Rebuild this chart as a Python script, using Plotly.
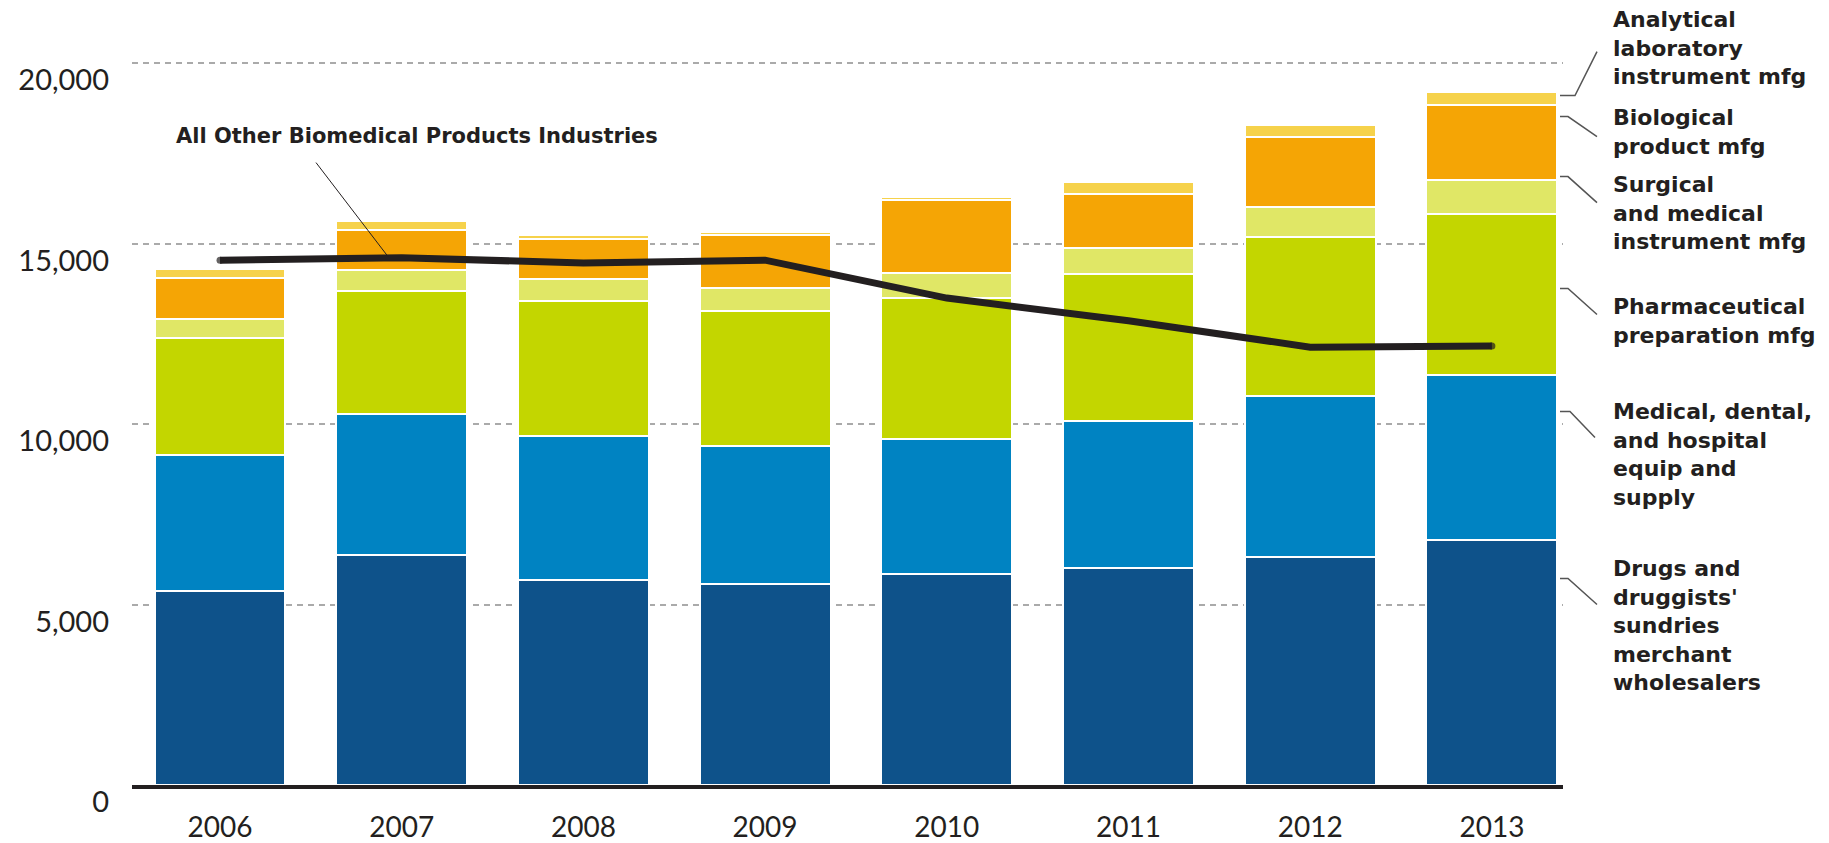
import plotly.graph_objects as go

years = ["2006", "2007", "2008", "2009", "2010", "2011", "2012", "2013"]

drugs_wholesalers = [5370, 6359, 5693, 5555, 5847, 6013, 6305, 6792]
medical_dental_equip = [3780, 3928, 3984, 3835, 3749, 4070, 4479, 4557]
pharmaceutical_prep = [3244, 3401, 3733, 3743, 3895, 4070, 4411, 4459]
surgical_instrument = [508, 573, 620, 647, 681, 720, 827, 964]
biological_product = [1155, 1109, 1090, 1451, 2045, 1490, 1919, 2074]
analytical_lab = [250, 258, 111, 102, 78, 331, 350, 360]

all_other = [14540, 14610, 14460, 14540, 13490, 12860, 12130, 12160]

series = [
    ("Drugs and druggists' sundries merchant wholesalers", drugs_wholesalers, "#0E528A"),
    ("Medical, dental, and hospital equip and supply", medical_dental_equip, "#0083C2"),
    ("Pharmaceutical preparation mfg", pharmaceutical_prep, "#C3D600"),
    ("Surgical and medical instrument mfg", surgical_instrument, "#E0E766"),
    ("Biological product mfg", biological_product, "#F5A505"),
    ("Analytical laboratory instrument mfg", analytical_lab, "#F6D24B"),
]

INK = "#231F20"
LABEL_FONT = dict(family="DejaVu Sans", size=22, color=INK, weight="bold")

fig = go.Figure()
for name, vals, col in series:
    fig.add_trace(go.Bar(x=years, y=vals, name=name, marker=dict(color=col, line=dict(color="white", width=2))))

fig.add_trace(go.Scatter(x=years, y=all_other, mode="lines+markers", name="All Other Biomedical Products Industries",
                         line=dict(color=INK, width=7),
                         marker=dict(color=INK, size=[7, 0, 0, 0, 0, 0, 0, 7], line=dict(width=0))))

# Layout geometry (pixels)
W, H = 1829, 843
L, R = 132, 1563
BOTTOM = 785.5
PX_PER_UNIT = 180.5 / 5000.0
YMAX = 21000
top = BOTTOM - YMAX * PX_PER_UNIT

def py2v(py):
    return (BOTTOM - py) / PX_PER_UNIT

def py2paper(py):
    return (BOTTOM - py) / (BOTTOM - top)

def px2paper(px):
    return (px - L) / (R - L)

labels = [
    ("Analytical<br>laboratory<br>instrument mfg", 48.5, [(1560, 96), (1575, 96), (1597, 52)]),
    ("Biological<br>product mfg", 132.5, [(1560, 117), (1568, 117), (1597, 137)]),
    ("Surgical<br>and medical<br>instrument mfg", 213, [(1560, 177), (1568, 177), (1597, 203)]),
    ("Pharmaceutical<br>preparation mfg", 321, [(1560, 289), (1568, 289), (1597, 315)]),
    ("Medical, dental,<br>and hospital<br>equip and<br>supply", 455, [(1560, 412), (1570, 412), (1595, 438)]),
    ("Drugs and<br>druggists'<br>sundries<br>merchant<br>wholesalers", 626, [(1560, 579), (1568, 579), (1597, 605)]),
]

annotations = []
shapes = []
for text, cy, pts in labels:
    annotations.append(dict(text=text, xref="paper", yref="paper", x=px2paper(1611), y=py2paper(cy),
                            xanchor="left", yanchor="middle", align="left", showarrow=False,
                            font=LABEL_FONT))
    path = "M " + " L ".join(f"{px2paper(x)},{py2paper(y)}" for x, y in pts)
    shapes.append(dict(type="path", xref="paper", yref="paper", path=path, line=dict(color="#555555", width=1.5)))

# All Other annotation
annotations.append(dict(text="All Other Biomedical Products Industries", xref="paper", yref="paper",
                        x=px2paper(417), y=py2paper(136), xanchor="center", yanchor="middle", showarrow=False,
                        font=dict(LABEL_FONT, size=21)))
shapes.append(dict(type="line", xref="paper", yref="paper", x0=px2paper(316), y0=py2paper(163),
                   x1=px2paper(388), y1=py2paper(257), line=dict(color=INK, width=1)))

cat_left = (L - 220) / 181.7
cat_right = (R - 220) / 181.7

fig.update_layout(
    width=W, height=H,
    barmode="stack", bargap=0.28,
    showlegend=False,
    plot_bgcolor="white", paper_bgcolor="white",
    margin=dict(l=L, r=W - R, t=top, b=H - BOTTOM, autoexpand=False),
    font=dict(family="Lato", color=INK),
    annotations=annotations, shapes=shapes,
    xaxis=dict(type="category", range=[cat_left, cat_right], showgrid=False,
               showline=True, linecolor=INK, linewidth=4, ticks="", ticklabelstandoff=14,
               tickfont=dict(size=28, color=INK), zeroline=False),
    yaxis=dict(range=[0, YMAX], tickvals=[0, 5000, 10000, 15000, 20000],
               ticktext=["0", "5,000", "10,000", "15,000", "20,000"],
               showgrid=True, gridcolor="#AAAAAA", gridwidth=1.5, griddash="6px,5px",
               zeroline=False, showline=False, ticks="", ticklabelstandoff=22, ticklabelshift=17,
               tickfont=dict(size=29, color=INK)),
)

fig.write_html("out.html", config={"displayModeBar": False},
               post_script="document.body.style.margin='0';document.body.style.overflow='hidden';")
